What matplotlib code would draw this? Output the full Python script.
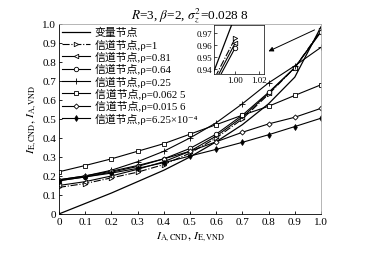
import numpy as np
import matplotlib
matplotlib.use("Agg")
import matplotlib.pyplot as plt

plt.rcParams["font.family"] = ["Liberation Serif", "Noto Sans CJK SC", "DejaVu Serif"]
plt.rcParams["mathtext.fontset"] = "stix"

# x positions of the markers
x = [0, 0.1, 0.2, 0.3, 0.4, 0.5, 0.6, 0.7, 0.8, 0.9, 1.0]

# variable node curve
vnd = [0, 0.055, 0.11, 0.17, 0.23, 0.30, 0.38, 0.47, 0.58, 0.72, 0.985]

# check node curves for different rho
rho_labels = ["1", "0.81", "0.64", "0.25", "0.062 5", "0.015 6", "6.25×10⁻⁴"]
cnd_rho1 = [0.14, 0.16, 0.19, 0.22, 0.26, 0.32, 0.40, 0.50, 0.63, 0.77, 0.966]
cnd_rho081 = [0.15, 0.17, 0.20, 0.235, 0.275, 0.33, 0.41, 0.51, 0.635, 0.77, 0.962]
cnd_rho064 = [0.175, 0.195, 0.22, 0.25, 0.29, 0.345, 0.42, 0.52, 0.64, 0.77, 0.958]
cnd_rho025 = [0.18, 0.20, 0.23, 0.275, 0.33, 0.40, 0.48, 0.58, 0.69, 0.78, 0.877]
cnd_rho00625 = [0.222, 0.255, 0.29, 0.33, 0.37, 0.42, 0.47, 0.52, 0.567, 0.624, 0.68]
cnd_rho00156 = [0.18, 0.20, 0.225, 0.255, 0.29, 0.33, 0.38, 0.43, 0.474, 0.509, 0.556]
cnd_rho625e4 = [0.175, 0.195, 0.215, 0.24, 0.27, 0.305, 0.34, 0.377, 0.417, 0.46, 0.504]

series = [cnd_rho1, cnd_rho081, cnd_rho064, cnd_rho025, cnd_rho00625, cnd_rho00156, cnd_rho625e4]
styles = [
    dict(marker=">", ls="-.", mfc="white"),
    dict(marker="<", ls="-", mfc="white"),
    dict(marker="o", ls="-", mfc="white"),
    dict(marker="+", ls="-", mfc="none", ms=4),
    dict(marker="s", ls="-", mfc="white"),
    dict(marker="D", ls="-", mfc="white", ms=2.6),
    dict(marker="d", ls="-", mfc="black", ms=3),
]

fig = plt.figure(figsize=(3.66, 2.55), dpi=100)
ax = fig.add_axes([0.161, 0.157, 0.716, 0.745])


def draw(a, with_labels):
    a.plot(x, vnd, color="black", lw=0.9, label="变量节点" if with_labels else None)
    for ys, st, r in zip(series, styles, rho_labels):
        kw = dict(color="black", lw=0.8, ms=3.2, mew=0.6)
        kw.update(st)
        a.plot(x, ys, label=("信道节点,ρ=" + r) if with_labels else None, **kw)


draw(ax, True)
ax.set_xlim(0, 1.0)
ax.set_ylim(0, 1.0)
ticks = np.round(np.arange(0, 1.01, 0.1), 1)
ax.set_xticks(ticks)
ax.set_yticks(ticks)
ax.set_xticklabels(["0"] + [f"{t:.1f}" for t in ticks[1:]], fontsize=8)
ax.set_yticklabels(["0"] + [f"{t:.1f}" for t in ticks[1:]], fontsize=8)
ax.tick_params(direction="in", length=2.5, width=0.6, pad=2)
for s in ax.spines.values():
    s.set_linewidth(0.6)
ax.spines["right"].set_color("#aaaaaa")
ax.spines["top"].set_color("#aaaaaa")

ax.set_xlabel(r"$I_{\mathrm{A,CND}},\,I_{\mathrm{E,VND}}$", fontsize=8.5, labelpad=3)
ax.set_ylabel(r"$I_{\mathrm{E,CND}},\,I_{\mathrm{A,VND}}$", fontsize=8.5, labelpad=2)
ax.set_title(r"$R$=3, $\beta$=2, $\sigma_z^2$=0.028 8", fontsize=9.5, pad=3)

leg = ax.legend(loc="upper left", fontsize=7.8, frameon=False, handlelength=2.6,
                handletextpad=0.4, labelspacing=0.1, borderaxespad=0.1,
                borderpad=0.2)

# zoomed inset near (1, 0.96)
axin = fig.add_axes([0.585, 0.706, 0.137, 0.192])
draw(axin, False)
axin.set_xlim(0.9825, 1.024)
axin.set_ylim(0.936, 0.977)
axin.set_xticks([1.00, 1.02])
axin.set_xticklabels(["1.00", "1.02"], fontsize=6.5)
axin.set_yticks([0.94, 0.95, 0.96, 0.97])
axin.set_yticklabels(["0.94", "0.95", "0.96", "0.97"], fontsize=6.5)
axin.tick_params(direction="in", length=2, width=0.5, pad=1.5)
for s in axin.spines.values():
    s.set_linewidth(0.5)

ax.annotate("", xy=(0.79, 0.85), xytext=(0.985, 0.975),
            arrowprops=dict(arrowstyle="-|>", color="black", lw=0.7,
                            mutation_scale=7))

fig.savefig("out.png", dpi=100)
